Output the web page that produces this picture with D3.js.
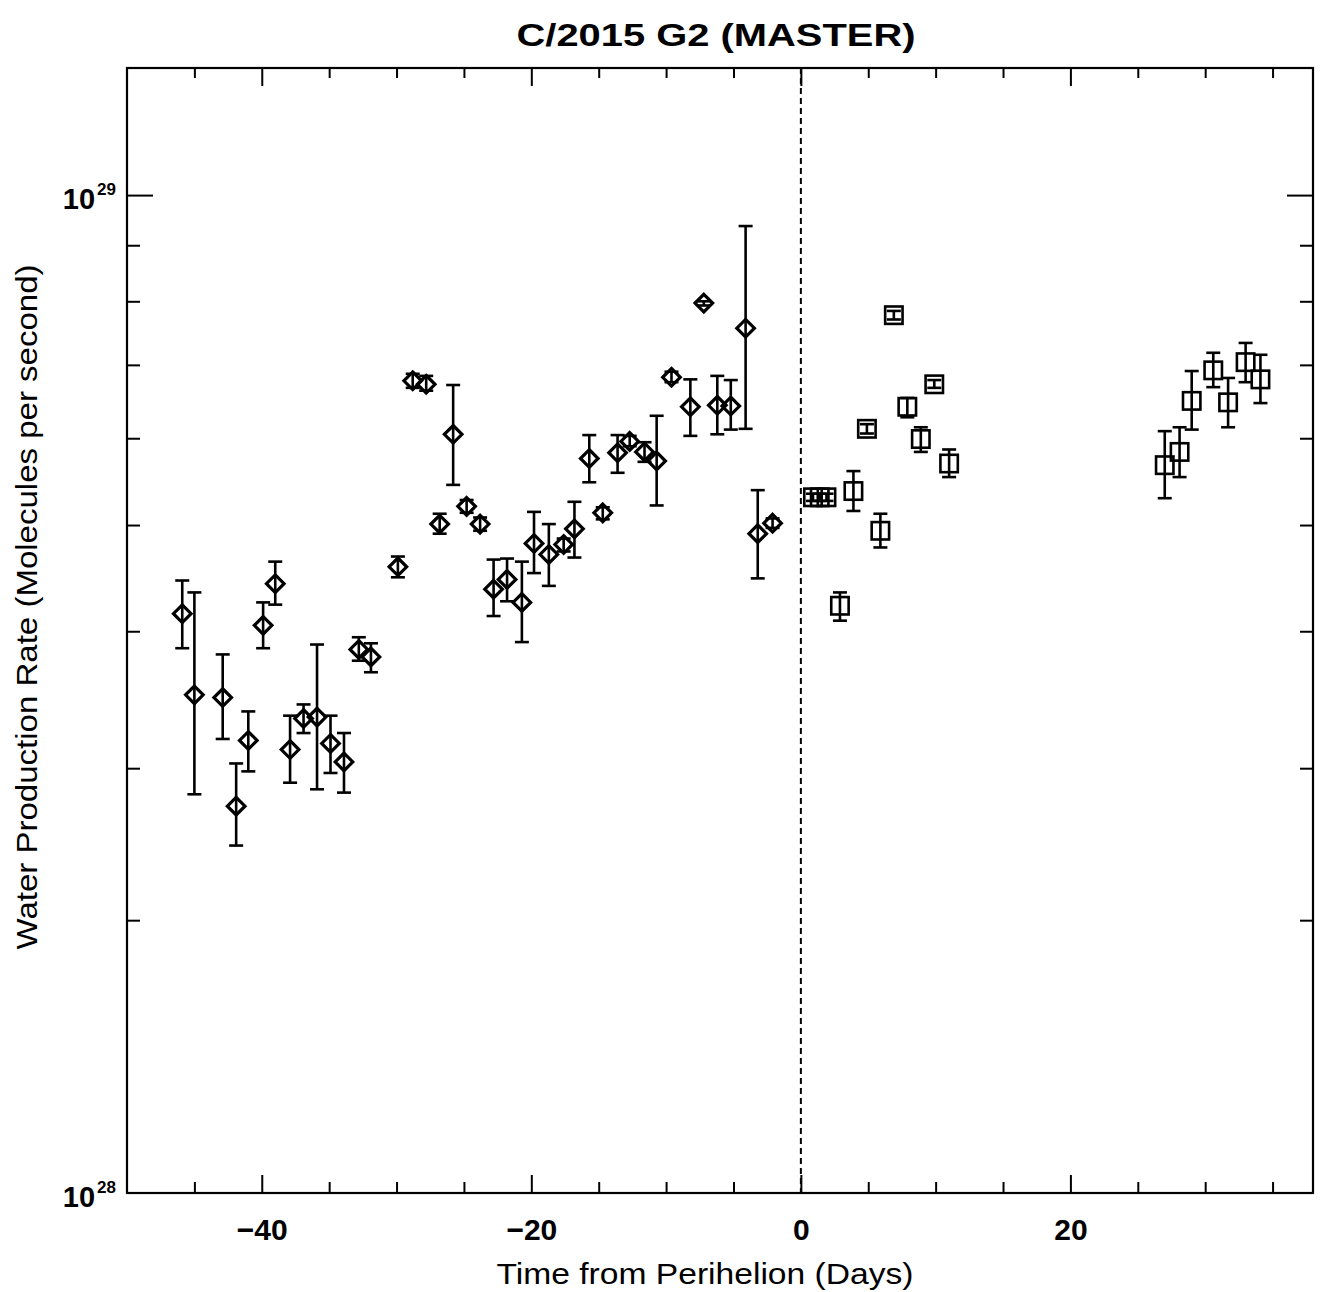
<!DOCTYPE html>
<html>
<head>
<meta charset="utf-8">
<script src="https://cdn.jsdelivr.net/npm/d3@7"></script>
<style>
  html, body { margin: 0; padding: 0; background: #fff; }
  svg { display: block; }
  text { font-family: "Liberation Sans", Arial, sans-serif; fill: #000; }
</style>
</head>
<body>
<div id="chart"></div>
<script>
// ---------- data (water production rate in units of 1e28 molecules/s) ----------
const preDays = [-45.9, -45.0, -42.9, -41.9, -41.0, -39.9, -39.0, -37.9, -36.9, -35.9, -34.9, -33.9,
  -32.8, -31.9, -29.9, -28.8, -27.8, -26.8, -25.8, -24.8, -23.8, -22.8, -21.8, -20.7, -19.8, -18.7,
  -17.6, -16.8, -15.7, -14.7, -13.6, -12.7, -11.6, -10.7, -9.6, -8.2, -7.2, -6.2, -5.2, -4.1, -3.2, -2.1];
const preQ = [4.15, 3.50, 3.48, 2.77, 3.18, 4.05, 4.42, 3.12, 3.33, 3.34, 3.16, 3.04,
  3.85, 3.79, 4.58, 6.77, 6.72, 5.01, 6.05, 5.20, 5.01, 4.37, 4.46, 4.25, 4.81, 4.70,
  4.80, 4.96, 5.75, 5.13, 5.82, 5.96, 5.83, 5.72, 6.82, 6.41, 7.97, 6.43, 6.42, 7.56, 4.91, 5.02];
const preLo = [3.86, 2.84, 3.19, 2.55, 2.98, 3.86, 4.23, 2.91, 3.23, 2.87, 2.97, 2.85,
  3.76, 3.67, 4.48, 6.67, 6.63, 4.91, 5.44, 5.13, 4.94, 4.13, 4.26, 3.91, 4.52, 4.40,
  4.73, 4.67, 5.47, 5.06, 5.58, 5.90, 5.71, 5.21, 6.75, 6.03, 7.93, 6.05, 6.11, 6.12, 4.47, 4.97];
const preHi = [4.45, 4.34, 3.81, 3.03, 3.38, 4.25, 4.63, 3.35, 3.43, 3.89, 3.35, 3.23,
  3.95, 3.90, 4.68, 6.87, 6.84, 5.12, 6.71, 5.27, 5.08, 4.65, 4.66, 4.63, 5.14, 5.01,
  4.86, 5.25, 6.04, 5.19, 6.04, 6.03, 5.95, 6.29, 6.90, 6.79, 8.00, 6.84, 6.78, 9.37, 5.38, 5.07];

const postDays = [0.9, 1.4, 1.9, 2.9, 3.9, 4.9, 5.9, 6.9, 7.9, 8.9, 9.9, 11.0,
  27.0, 28.1, 29.0, 30.6, 31.7, 33.0, 34.1];
const postQ = [5.30, 5.30, 5.30, 4.22, 5.37, 6.12, 4.94, 7.77, 6.41, 5.99, 6.72, 5.69,
  5.67, 5.83, 6.49, 6.92, 6.47, 7.04, 6.79];
const postLo = [5.26, 5.26, 5.26, 4.09, 5.15, 6.06, 4.77, 7.70, 6.27, 5.83, 6.67, 5.53,
  5.29, 5.53, 6.11, 6.68, 6.14, 6.75, 6.46];
const postHi = [5.34, 5.34, 5.34, 4.34, 5.60, 6.18, 5.12, 7.84, 6.53, 6.14, 6.78, 5.86,
  6.09, 6.14, 6.91, 7.18, 6.81, 7.33, 7.15];

const qUnit = 1e28;
const xDomain = [-50, 38];
const yDomain = [1.229e28, 1.306e29];
const xMajorTicks = [-40, -20, 0, 20];
const xTickLabels = ["\u221240", "\u221220", "0", "20"];
const xMinorTicks = [-45, -35, -30, -25, -15, -10, -5, 5, 10, 15, 25, 30, 35];
const yMajorTicks = [1e29];
const yMinorTicks = [2.18e28, 3e28, 4e28, 5e28, 6e28, 7e28, 8e28, 9e28];
const yLabelValues = [1e29, 1.229e28];
const yLabelExp = ["29", "28"];

const titleText = "C/2015 G2 (MASTER)";
const xLabelText = "Time from Perihelion (Days)";
const yLabelText = "Water Production Rate (Molecules per second)";

// ---------- layout ----------
const W = 1324, H = 1292;
const pL = 127, pR = 1313, pT = 68, pB = 1193;

const svg = d3.select("#chart").append("svg").attr("width", W).attr("height", H);
svg.append("rect").attr("width", W).attr("height", H).attr("fill", "#fff");

const x = d3.scaleLinear().domain(xDomain).range([pL, pR]);
const y = d3.scaleLog().domain(yDomain).range([pB, pT]);

// perihelion dashed line
svg.append("line")
  .attr("x1", x(0)).attr("x2", x(0)).attr("y1", pT).attr("y2", pB)
  .attr("stroke", "#000").attr("stroke-width", 2).attr("stroke-dasharray", "6,4");

// ---------- axes ----------
function styleAxis(g) {
  g.select(".domain").remove();
  g.selectAll(".tick line").attr("stroke", "#000").attr("stroke-width", 2);
}
// bottom
svg.append("g").attr("transform", `translate(0,${pB})`)
  .call(d3.axisBottom(x).tickValues(xMajorTicks).tickSize(-18).tickPadding(26)
    .tickFormat((d, i) => xTickLabels[i]))
  .call(styleAxis)
  .call(g => g.selectAll(".tick text").attr("font-size", 30).attr("font-weight", "bold")
    .attr("font-family", "Liberation Sans, Arial, sans-serif").attr("fill", "#000"));
svg.append("g").attr("transform", `translate(0,${pB})`)
  .call(d3.axisBottom(x).tickValues(xMinorTicks).tickSize(-11).tickFormat(""))
  .call(styleAxis);
// top
svg.append("g").attr("transform", `translate(0,${pT})`)
  .call(d3.axisTop(x).tickValues(xMajorTicks).tickSize(-18).tickFormat(""))
  .call(styleAxis);
svg.append("g").attr("transform", `translate(0,${pT})`)
  .call(d3.axisTop(x).tickValues(xMinorTicks).tickSize(-10).tickFormat(""))
  .call(styleAxis);
// left
svg.append("g").attr("transform", `translate(${pL},0)`)
  .call(d3.axisLeft(y).tickValues(yMajorTicks).tickSize(-26).tickFormat(""))
  .call(styleAxis);
svg.append("g").attr("transform", `translate(${pL},0)`)
  .call(d3.axisLeft(y).tickValues(yMinorTicks).tickSize(-13).tickFormat(""))
  .call(styleAxis);
// right
svg.append("g").attr("transform", `translate(${pR},0)`)
  .call(d3.axisRight(y).tickValues(yMajorTicks).tickSize(-26).tickFormat(""))
  .call(styleAxis);
svg.append("g").attr("transform", `translate(${pR},0)`)
  .call(d3.axisRight(y).tickValues(yMinorTicks).tickSize(-13).tickFormat(""))
  .call(styleAxis);

// frame
svg.append("rect").attr("x", pL).attr("y", pT)
  .attr("width", pR - pL).attr("height", pB - pT)
  .attr("fill", "none").attr("stroke", "#000").attr("stroke-width", 2.2);

// y labels 10^29 / 10^28
yLabelValues.forEach((v, i) => {
  const t = svg.append("text")
    .attr("x", 116).attr("y", y(v) + 14)
    .attr("text-anchor", "end").attr("font-weight", "bold").attr("font-size", 29);
  t.append("tspan").text("10");
  t.append("tspan").attr("dx", 2).attr("dy", -14).attr("font-size", 17).text(yLabelExp[i]);
});

// titles
svg.append("text").attr("x", 716).attr("y", 46).attr("text-anchor", "middle")
  .attr("font-size", 32).attr("font-weight", "bold")
  .attr("textLength", 399).attr("lengthAdjust", "spacingAndGlyphs").text(titleText);
svg.append("text").attr("x", 705).attr("y", 1284).attr("text-anchor", "middle")
  .attr("font-size", 30)
  .attr("textLength", 417).attr("lengthAdjust", "spacingAndGlyphs").text(xLabelText);
svg.append("text").attr("transform", "translate(37,607) rotate(-90)").attr("text-anchor", "middle")
  .attr("font-size", 30)
  .attr("textLength", 685).attr("lengthAdjust", "spacingAndGlyphs").text(yLabelText);

// ---------- data marks ----------
const pre = preDays.map((d, i) => ({ d, q: preQ[i] * qUnit, lo: preLo[i] * qUnit, hi: preHi[i] * qUnit }));
const post = postDays.map((d, i) => ({ d, q: postQ[i] * qUnit, lo: postLo[i] * qUnit, hi: postHi[i] * qUnit }));

function errorBars(data) {
  const g = svg.append("g").attr("stroke", "#000").attr("stroke-width", 2.6).attr("fill", "none");
  const cap = 7;
  data.forEach(p => {
    const cx = x(p.d);
    g.append("line").attr("x1", cx).attr("x2", cx).attr("y1", y(p.lo)).attr("y2", y(p.hi));
    g.append("line").attr("x1", cx - cap).attr("x2", cx + cap).attr("y1", y(p.lo)).attr("y2", y(p.lo));
    g.append("line").attr("x1", cx - cap).attr("x2", cx + cap).attr("y1", y(p.hi)).attr("y2", y(p.hi));
  });
}
errorBars(pre);
errorBars(post);

const rD = 8.8;
svg.append("g").selectAll("path").data(pre).join("path")
  .attr("d", `M0,${-rD}L${rD},0L0,${rD}L${-rD},0Z`)
  .attr("transform", p => `translate(${x(p.d)},${y(p.q)})`)
  .attr("fill", "none").attr("stroke", "#000").attr("stroke-width", 3.2);

const rS = 8.7;
svg.append("g").selectAll("rect").data(post).join("rect")
  .attr("x", p => x(p.d) - rS).attr("y", p => y(p.q) - rS)
  .attr("width", 2 * rS).attr("height", 2 * rS)
  .attr("fill", "none").attr("stroke", "#000").attr("stroke-width", 2.6);
</script>
</body>
</html>
